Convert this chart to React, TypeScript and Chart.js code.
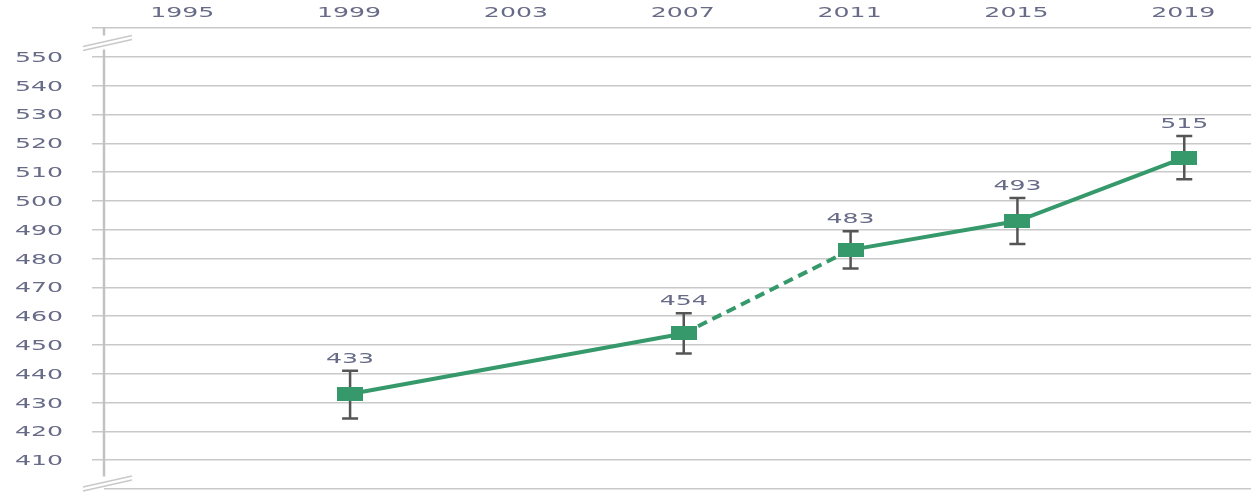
import React, { useEffect, useRef } from 'react';
import { Chart, registerables } from 'chart.js';

Chart.register(...registerables);

// ---- data ----
const years = [1999, 2007, 2011, 2015, 2019];
const scores = [433, 454, 483, 493, 515];
const errorUp = [8, 7, 6.5, 8, 7.5];
const errorDown = [8.5, 7, 6.5, 8, 7.5];
const xTickYears = [1995, 1999, 2003, 2007, 2011, 2015, 2019];
const yTickValues = [400, 410, 420, 430, 440, 450, 460, 470, 480, 490, 500, 510, 520, 530, 540, 550, 560];
const hiddenYTicks = [400, 560];
const dashedSegmentStart = 2007;

// ---- styles ----
const GREEN = '#36996b';
const GRID = '#c9c9c9';
const AXIS = '#c2c2c2';
const TEXT = '#676b87';
const ERR = '#555555';
const FONT = '14px "DejaVu Sans", sans-serif';
const STRETCH = 1.8;
const CAP_HALF = 5;

function drawStretched(ctx: CanvasRenderingContext2D, text: string, x: number, y: number, align: CanvasTextAlign) {
  ctx.save();
  ctx.translate(x, y);
  ctx.scale(STRETCH, 1);
  ctx.textAlign = align;
  ctx.textBaseline = 'alphabetic';
  ctx.fillText(text, 0, 0);
  ctx.restore();
}

export default function App() {
  const ref = useRef<HTMLCanvasElement>(null);

  useEffect(() => {
    document.body.style.margin = '0';
    const canvas = ref.current!;

    const marker = document.createElement('canvas');
    marker.width = 26;
    marker.height = 14;
    const mctx = marker.getContext('2d')!;
    mctx.fillStyle = GREEN;
    mctx.fillRect(0, 0, 26, 14);

    const zeroPad = (s: any) => {
      s.paddingTop = 0;
      s.paddingBottom = 0;
      s.paddingLeft = 0;
      s.paddingRight = 0;
    };

    const decoPlugin = {
      id: 'deco',
      beforeDatasetsDraw(chart: any) {
        const { ctx, chartArea, scales } = chart;
        const ys = scales.y;
        const xs = scales.x;
        ctx.save();
        // axis line with breaks
        const ax = chartArea.left;
        const topBreak = ys.getPixelForValue(555);
        const botBreak = ys.getPixelForValue(404);
        ctx.strokeStyle = AXIS;
        ctx.lineWidth = 2.5;
        ctx.beginPath();
        ctx.moveTo(ax, chartArea.top);
        ctx.lineTo(ax, topBreak - 7);
        ctx.moveTo(ax, topBreak + 7);
        ctx.lineTo(ax, botBreak - 1);
        ctx.stroke();
        // break marks
        ctx.strokeStyle = GRID;
        ctx.lineWidth = 1.5;
        const drawBreak = (cy: number) => {
          for (const off of [-2, 2]) {
            ctx.beginPath();
            ctx.moveTo(ax - 21, cy + off + 6);
            ctx.lineTo(ax + 28, cy + off - 5);
            ctx.stroke();
          }
        };
        drawBreak(topBreak);
        drawBreak(ys.getPixelForValue(400) - 6);
        // error bars
        ctx.strokeStyle = ERR;
        ctx.lineWidth = 2.5;
        years.forEach((yr, i) => {
          const x = xs.getPixelForValue(yr);
          const yTop = ys.getPixelForValue(scores[i] + errorUp[i]);
          const yBot = ys.getPixelForValue(scores[i] - errorDown[i]);
          ctx.beginPath();
          ctx.moveTo(x, yTop);
          ctx.lineTo(x, yBot);
          ctx.moveTo(x - 8, yTop);
          ctx.lineTo(x + 8, yTop);
          ctx.moveTo(x - 8, yBot);
          ctx.lineTo(x + 8, yBot);
          ctx.stroke();
        });
        ctx.restore();
      },
      afterDatasetsDraw(chart: any) {
        const { ctx, scales, chartArea } = chart;
        ctx.save();
        ctx.font = FONT;
        ctx.fillStyle = TEXT;
        // y tick labels
        scales.y.ticks.forEach((t: any) => {
          if (hiddenYTicks.includes(t.value)) return;
          const y = scales.y.getPixelForValue(t.value);
          drawStretched(ctx, String(t.value), chartArea.left - 41, y + CAP_HALF, 'right');
        });
        // x tick labels (top)
        scales.x.ticks.forEach((t: any) => {
          const x = scales.x.getPixelForValue(t.value);
          drawStretched(ctx, String(t.value), x - 1, 12 + CAP_HALF, 'center');
        });
        // data labels
        years.forEach((yr, i) => {
          const x = scales.x.getPixelForValue(yr);
          const yTop = scales.y.getPixelForValue(scores[i] + errorUp[i]);
          drawStretched(ctx, String(scores[i]), x, yTop - 13 + CAP_HALF, 'center');
        });
        ctx.restore();
      },
    };

    const chart = new Chart(canvas, {
      type: 'line',
      data: {
        datasets: [
          {
            data: years.map((x, i) => ({ x, y: scores[i] })),
            borderColor: GREEN,
            borderWidth: 4,
            pointStyle: marker as any,
            pointRadius: 6,
            tension: 0,
            clip: false as any,
            segment: {
              borderDash: (c: any) => (c.p0.parsed.x === dashedSegmentStart ? [10, 6] : undefined),
            },
          },
        ],
      },
      options: {
        animation: false,
        responsive: false,
        devicePixelRatio: 1,
        layout: { padding: { top: 0, left: 0, right: 0, bottom: 5 }, autoPadding: false },
        plugins: { legend: { display: false }, tooltip: { enabled: false } },
        scales: {
          x: {
            type: 'linear',
            position: 'top',
            min: 1993.1,
            max: 2020.6,
            grid: { display: false, drawTicks: false },
            border: { display: false },
            afterBuildTicks: (s: any) => {
              s.ticks = xTickYears.map((v) => ({ value: v }));
            },
            afterFit: (s: any) => {
              s.height = 28;
              zeroPad(s);
            },
            ticks: { display: false, autoSkip: false },
          },
          y: {
            type: 'linear',
            min: 400,
            max: 560,
            afterBuildTicks: (s: any) => {
              s.ticks = yTickValues.map((v) => ({ value: v }));
            },
            afterFit: (s: any) => {
              s.width = 104;
              zeroPad(s);
            },
            border: { display: false },
            grid: {
              color: GRID,
              lineWidth: 1.5,
              drawTicks: true,
              tickLength: 12,
              tickColor: (c: any) => (c.tick && c.tick.value === 400 ? 'rgba(0,0,0,0)' : GRID),
            },
            ticks: { display: false, autoSkip: false },
          },
        },
      },
      plugins: [decoPlugin],
    });

    return () => chart.destroy();
  }, []);

  return <canvas ref={ref} width={1251} height={494} style={{ display: 'block' }} />;
}
